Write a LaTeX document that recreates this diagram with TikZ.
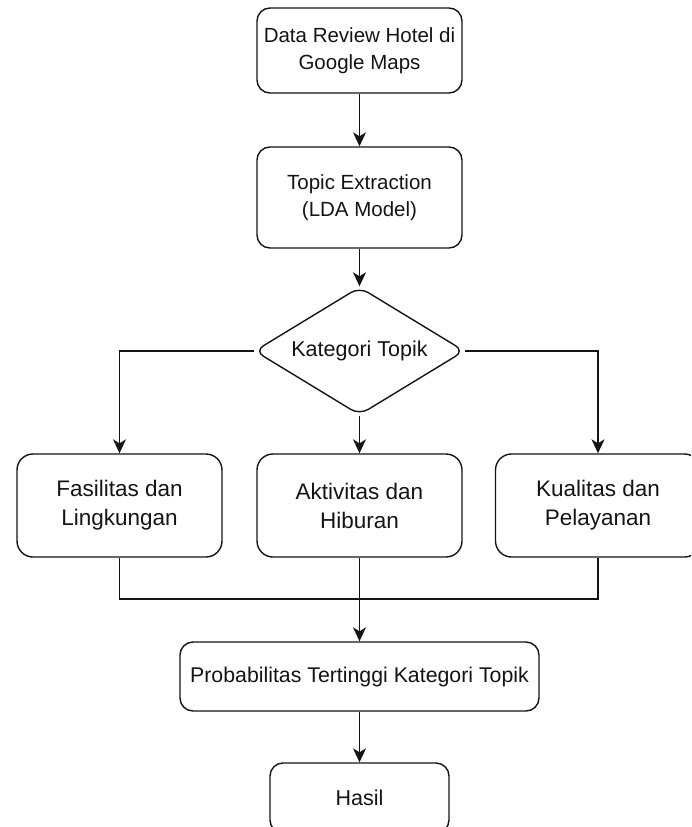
\documentclass[tikz,border=0pt]{standalone}
\usepackage{fontspec}
\setmainfont{Liberation Sans}
\usetikzlibrary{arrows.meta,shapes.geometric}
\definecolor{ink}{HTML}{141414}
\tikzset{
  box/.style={draw=ink, text=ink, line width=1.4pt, rounded corners=13pt, inner sep=0pt, align=center, font=\fontsize{20.5}{27}\selectfont},
  bigbox/.style={box, font=\fontsize{22.5}{29}\selectfont, rounded corners=16pt},
  dec/.style={draw=ink, text=ink, line width=1.4pt, shape=diamond, aspect=1.64, rounded corners=10pt, inner sep=0pt, minimum width=210pt, minimum height=128pt, font=\fontsize{21.5}{26}\selectfont},
  conn/.style={draw=ink, line width=1.4pt},
  arr/.style={conn, -{Stealth[length=14pt,width=13pt,inset=4pt]}}
}
\begin{document}
\begin{tikzpicture}[x=1pt,y=-1pt]
\useasboundingbox (0,0) rectangle (691,827);
\clip (0,0) rectangle (691,827);
\node[box, minimum width=205pt, minimum height=85pt] (b1) at (359.5,50.5) {Data Review Hotel di\\Google Maps};
\node[box, minimum width=205pt, minimum height=101pt] (b2) at (359.5,197.5) {Topic Extraction\\(LDA Model)};
\node[dec] (dia) at (359.5,351) {Kategori Topik};
\node[bigbox, minimum width=205pt, minimum height=103pt] (f1) at (119.5,505.5) {Fasilitas dan\\Lingkungan};
\node[bigbox, minimum width=205pt, minimum height=103pt] (f2) at (359.5,505.5) {Aktivitas dan\\Hiburan};
\node[bigbox, minimum width=205pt, minimum height=103pt] (f3) at (598,505.5) {Kualitas dan\\Pelayanan};
\node[box, minimum width=359pt, minimum height=69pt, font=\fontsize{21.3}{26}\selectfont] (prob) at (359.5,676.5) {Probabilitas Tertinggi Kategori Topik};
\node[box, minimum width=179pt, minimum height=70pt, font=\fontsize{21.5}{26}\selectfont] (hasil) at (359.5,798) {Hasil};
\coordinate (j) at (359.5,599);
\draw[arr] (b1) -- (b2);
\draw[arr] (b2) -- (dia);
\draw[arr] (dia.west) -| (f1.north);
\draw[arr] (dia.east) -| (f3.north);
\draw[arr] (dia.south) -- (f2.north);
\draw[conn] (f1.south) |- (j);
\draw[conn] (f3.south) |- (j);
\draw[arr] (f2.south) -- (prob.north);
\draw[arr] (prob) -- (hasil);
\end{tikzpicture}
\end{document}
